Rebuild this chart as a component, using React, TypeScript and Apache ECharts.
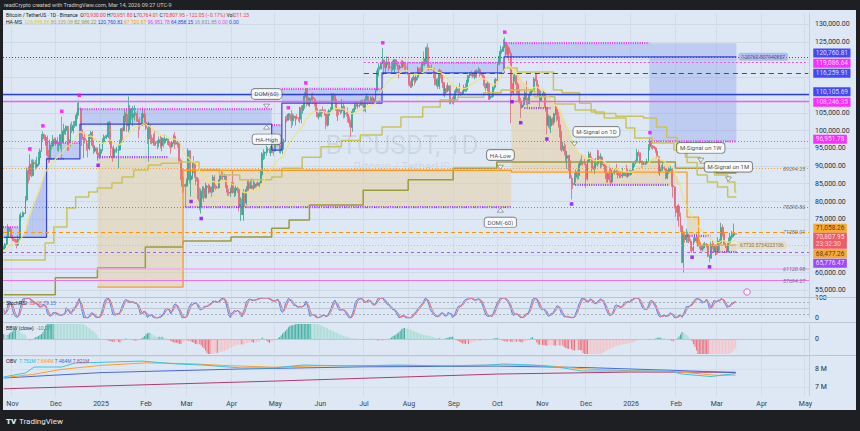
import React, { useEffect, useRef } from 'react';
import * as echarts from 'echarts';

// ---------- price data (thousands USDT) ----------
// warm-up closes used only for indicators (Sep 1 - Oct 25, 2024)
const WARMUP_SEP_2024 = [57.3, 59.1, 57.5, 58.0, 56.2, 53.9, 54.2, 54.9, 57.0, 57.6, 57.3, 58.1, 60.5, 60.0, 59.2, 58.2, 60.3, 61.8, 62.9, 63.2, 63.3, 63.6, 63.3, 64.3, 63.1, 65.2, 65.8, 65.8, 65.6, 63.3];
const WARMUP_OCT_2024 = [60.8, 60.6, 60.8, 62.1, 62.1, 62.8, 62.2, 62.1, 60.6, 60.3, 62.4, 63.2, 62.8, 66.0, 67.0, 67.6, 67.4, 68.4, 68.4, 69.0, 67.4, 67.4, 66.7, 68.2, 66.6];

// daily [high, low, close]
const OCT_2024 = [[67.4,66.5,67.0],[68.3,66.8,68.0],[70.3,67.6,69.9],[73.6,69.7,72.7],[72.9,71.4,72.3],[72.7,69.7,70.2]];
const NOV_2024 = [[70.6,68.8,69.5],[70.0,68.8,69.3],[69.5,67.5,68.7],[69.4,66.8,67.8],[70.5,67.5,69.4],[76.4,69.3,75.6],[76.9,74.4,75.9],[77.2,75.5,76.5],[77.0,75.7,76.7],[81.5,76.5,80.4],[89.6,80.2,88.7],[89.9,85.1,87.9],[93.3,86.0,90.5],[91.8,86.8,87.3],[91.9,87.1,91.0],[91.8,89.3,90.6],[91.7,89.0,89.8],[92.6,89.4,90.5],[94.0,90.0,92.3],[94.9,91.5,94.3],[99.0,94.0,98.3],[99.8,97.2,98.9],[98.9,97.1,97.7],[98.7,95.7,98.0],[98.6,92.6,93.0],[94.6,90.8,91.9],[97.4,91.0,95.9],[96.7,94.6,95.6],[98.7,95.4,97.5],[98.0,96.1,96.4]];
const DEC_2024 = [[98.0,95.7,97.2],[98.2,94.2,95.8],[96.3,94.0,96.0],[99.0,94.7,98.8],[103.9,92.1,96.6],[101.9,96.5,99.9],[100.6,98.8,99.9],[101.4,98.8,101.2],[101.2,94.2,97.4],[98.3,94.3,96.6],[101.9,95.5,101.1],[102.5,99.3,100.0],[102.6,99.2,101.4],[102.7,100.8,101.4],[105.1,101.2,104.3],[107.8,103.3,106.1],[108.4,105.3,106.1],[106.5,100.0,100.2],[102.8,95.6,97.5],[98.2,92.2,97.8],[99.5,96.4,97.3],[97.4,94.2,95.2],[96.4,92.4,94.9],[99.0,94.4,98.7],[99.9,97.6,99.4],[99.9,95.2,95.8],[97.3,93.4,94.2],[95.5,93.8,95.1],[95.2,93.3,93.7],[94.9,91.5,92.8],[96.2,91.9,93.6]];
const JAN_2025 = [[94.9,92.9,94.6],[97.8,94.2,96.9],[98.9,96.2,98.1],[98.7,97.8,98.2],[98.8,97.6,98.3],[102.5,97.9,102.3],[102.7,96.1,96.9],[97.3,92.5,95.0],[95.3,91.2,92.5],[95.8,92.2,94.7],[94.9,93.8,94.5],[95.4,93.7,94.5],[95.9,89.3,94.5],[97.4,94.3,96.5],[100.7,96.5,100.5],[100.9,97.3,99.9],[105.9,99.9,104.1],[105.0,102.3,104.5],[106.3,99.6,101.3],[109.6,99.5,102.0],[107.2,100.1,106.1],[106.3,103.1,103.7],[106.9,101.2,104.0],[107.1,102.8,104.8],[105.3,104.2,104.7],[105.5,102.5,102.6],[103.2,97.8,102.1],[103.8,100.3,101.3],[104.8,101.3,103.7],[106.5,103.3,104.7],[106.0,101.5,102.4]];
const FEB_2025 = [[102.7,100.1,100.6],[100.9,96.2,97.7],[102.5,91.2,101.4],[101.7,96.2,97.9],[98.8,96.1,96.6],[99.1,95.7,96.6],[100.1,95.6,96.5],[96.9,95.7,96.5],[97.3,94.7,96.5],[98.3,95.3,97.4],[98.5,94.9,95.7],[98.1,94.1,97.9],[97.9,95.2,96.6],[98.8,96.1,97.5],[97.9,97.1,97.6],[97.7,96.0,96.1],[97.0,95.2,95.8],[96.8,93.4,95.5],[97.0,95.0,96.6],[98.8,96.1,98.3],[99.5,94.8,96.1],[96.9,96.1,96.6],[96.6,95.2,96.3],[96.5,91.2,91.5],[92.0,86.1,88.7],[89.3,82.3,84.3],[87.0,82.8,84.7],[85.1,78.3,84.4]];
const MAR_2025 = [[86.5,84.1,86.1],[95.0,85.1,94.3],[94.4,85.1,86.1],[88.9,81.4,87.2],[91.0,86.3,90.6],[92.8,88.0,89.9],[91.2,84.6,86.8],[86.9,85.6,86.2],[86.5,80.1,80.7],[83.9,77.5,78.5],[83.6,76.6,82.9],[84.3,80.8,83.7],[84.3,79.9,81.1],[85.3,80.8,84.0],[84.7,83.9,84.3],[85.0,82.1,82.6],[84.7,82.6,84.1],[84.0,81.3,82.7],[87.4,82.5,86.8],[87.4,83.7,84.2],[84.8,83.2,84.0],[84.5,83.6,83.8],[86.1,83.7,86.1],[88.7,85.8,87.5],[88.5,86.3,87.4],[88.3,85.9,86.9],[87.8,85.8,87.2],[87.5,83.8,84.4],[84.6,81.6,82.6],[83.5,81.6,82.4],[83.9,81.3,82.5]];
const APR_2025 = [[85.5,82.4,85.2],[88.5,82.3,82.5],[83.9,81.2,83.1],[84.7,81.6,83.8],[84.2,82.4,83.5],[83.8,77.2,78.4],[81.2,74.5,79.2],[80.8,76.2,76.3],[83.5,74.6,82.6],[82.7,78.4,79.6],[84.3,78.9,83.4],[85.9,82.7,85.3],[86.0,83.0,83.7],[85.8,83.6,84.5],[86.5,83.6,83.6],[86.4,83.1,84.0],[85.5,83.7,84.9],[85.4,84.0,84.5],[85.6,84.4,85.1],[85.5,83.9,85.2],[88.9,85.1,87.5],[93.9,87.6,93.4],[94.7,91.7,93.7],[94.0,92.0,93.9],[95.8,92.9,94.7],[95.3,93.9,94.6],[95.0,93.6,93.7],[95.6,92.8,95.0],[95.5,93.6,94.3],[95.0,92.9,94.2]];
const MAY_2025 = [[97.4,94.2,96.5],[97.9,96.0,96.9],[96.9,95.7,95.9],[96.0,93.6,94.3],[95.2,93.5,94.7],[96.9,93.4,96.8],[97.7,95.8,97.0],[104.0,96.9,103.2],[104.3,102.3,102.9],[104.9,102.8,104.6],[104.9,103.1,104.1],[105.7,100.7,102.8],[104.8,101.4,104.1],[104.5,102.6,103.5],[104.1,101.4,103.7],[104.6,103.1,103.5],[103.7,102.6,103.2],[106.7,102.1,106.4],[107.1,102.0,105.6],[107.1,104.7,106.8],[110.8,106.1,109.7],[111.9,109.2,111.7],[111.9,106.7,107.3],[109.5,106.9,107.8],[109.3,106.6,109.0],[110.4,108.5,109.4],[110.7,107.5,108.9],[109.3,106.8,107.8],[108.9,105.3,105.6],[106.3,103.6,103.9],[105.0,103.1,104.6]];
const JUN_2025 = [[105.9,103.9,105.7],[105.9,103.7,105.8],[106.8,104.8,105.4],[106.0,104.1,104.7],[105.9,100.4,101.5],[105.4,101.1,104.3],[106.0,104.2,105.6],[106.6,105.0,105.7],[110.6,105.3,110.2],[110.4,108.4,110.2],[110.4,108.0,108.6],[108.9,103.9,105.7],[106.3,102.7,106.1],[106.2,104.3,105.4],[106.0,104.5,105.6],[108.9,104.9,106.8],[107.7,103.4,104.6],[105.5,103.6,104.8],[105.2,103.9,104.6],[106.5,102.3,103.3],[104.0,100.9,102.1],[103.1,98.2,100.9],[106.1,99.6,105.3],[106.3,104.7,106.0],[108.0,105.9,107.3],[108.2,106.7,106.9],[107.8,106.1,107.0],[107.6,106.5,107.3],[108.5,107.0,108.4],[108.8,106.8,107.1]];
const JUL_2025 = [[107.6,105.3,105.7],[109.7,105.1,108.8],[110.5,108.5,109.6],[109.8,107.2,108.0],[108.4,107.5,108.2],[109.7,107.8,109.2],[109.7,107.4,108.2],[109.0,107.5,108.9],[111.9,108.4,111.3],[116.9,111.3,115.9],[118.9,115.2,117.5],[118.2,116.9,117.4],[119.4,117.2,119.1],[123.2,118.9,119.8],[120.0,115.7,117.7],[119.4,115.9,118.6],[120.9,117.9,119.2],[120.8,116.8,117.9],[118.6,117.3,117.8],[118.9,116.5,117.3],[119.7,116.8,117.4],[120.2,116.4,119.9],[120.0,117.2,118.7],[119.5,117.1,118.3],[118.4,114.7,117.6],[118.5,117.1,117.9],[119.8,117.8,119.4],[119.8,117.5,118.0],[119.2,116.9,117.9],[118.9,115.8,117.8],[118.9,115.6,115.8]];
const AUG_2025 = [[116.1,112.7,113.3],[114.0,112.0,112.5],[114.8,112.0,114.2],[115.8,114.1,115.0],[115.1,112.7,114.1],[115.8,113.4,115.0],[118.0,114.3,117.5],[117.7,115.9,116.6],[117.9,116.0,116.5],[119.3,116.4,119.3],[122.3,118.2,118.7],[120.3,118.2,120.2],[123.7,118.9,123.3],[124.5,117.2,118.3],[119.2,116.8,117.4],[117.9,117.2,117.4],[118.6,117.2,117.5],[117.6,114.7,116.2],[116.8,112.7,112.9],[114.6,112.4,114.3],[114.8,111.7,112.5],[117.4,111.7,116.9],[117.0,114.6,115.4],[115.6,112.0,113.5],[113.6,109.7,110.1],[112.4,109.4,111.8],[112.8,110.6,111.2],[113.5,110.8,112.6],[112.7,107.4,108.4],[109.0,107.4,108.8],[109.5,107.5,108.2]];
const SEP_2025 = [[109.9,107.3,109.2],[111.8,108.6,111.2],[112.6,110.5,111.7],[111.6,109.4,110.7],[113.4,110.4,110.7],[110.9,109.7,110.2],[111.3,110.0,111.1],[112.9,110.6,112.1],[113.3,110.8,111.5],[114.3,110.9,113.9],[115.5,113.5,115.5],[116.3,114.8,116.1],[116.8,115.2,115.9],[116.1,114.8,115.3],[116.8,114.4,115.4],[117.0,114.8,116.8],[117.3,114.8,116.5],[117.9,116.6,117.1],[117.5,115.1,115.7],[116.3,115.4,115.7],[115.8,114.9,115.3],[115.4,111.9,112.7],[113.3,111.1,112.0],[114.0,111.0,113.3],[113.5,108.6,109.0],[110.3,108.6,109.7],[109.8,109.2,109.6],[112.4,109.2,112.2],[114.5,111.5,114.4],[114.8,112.6,114.0]];
const OCT_2025 = [[118.7,113.9,118.6],[121.0,118.4,120.6],[123.9,119.3,122.3],[122.9,121.6,122.4],[125.7,122.2,123.5],[126.2,123.3,124.8],[125.0,120.6,121.5],[124.2,121.1,123.3],[123.8,119.6,121.7],[122.6,102.0,113.2],[113.4,109.6,110.6],[115.8,110.1,115.2],[115.9,113.8,115.3],[115.5,110.0,113.0],[113.6,110.0,110.7],[111.7,107.6,108.2],[109.2,103.5,106.4],[107.5,106.4,107.2],[109.4,106.7,108.6],[111.7,107.5,110.6],[114.0,107.2,108.4],[109.2,106.6,107.6],[111.0,107.4,110.1],[112.0,109.7,111.0],[111.9,110.8,111.6],[115.0,111.3,114.5],[116.4,113.8,114.1],[116.1,112.2,112.9],[113.6,109.6,110.0],[111.6,106.3,108.3],[111.2,108.0,109.6]];
const NOV_2025 = [[110.6,109.4,110.1],[111.2,109.8,110.6],[110.8,105.3,106.5],[106.6,98.9,101.5],[104.5,100.8,103.9],[104.2,100.3,101.3],[104.0,99.3,103.3],[103.7,101.5,102.3],[105.0,101.5,104.7],[107.0,104.3,106.0],[106.7,102.5,103.0],[105.3,100.8,101.6],[104.0,98.0,99.7],[99.8,94.0,94.5],[96.8,94.6,95.5],[96.6,93.0,94.2],[96.0,91.2,92.2],[93.8,89.2,92.9],[93.0,88.6,91.5],[93.2,86.3,86.6],[87.4,80.6,85.1],[85.6,83.5,84.7],[88.0,84.6,86.8],[89.0,85.3,88.3],[89.0,86.1,87.3],[90.7,86.3,90.5],[91.9,90.1,91.3],[93.1,90.2,90.9],[91.2,90.2,90.8],[92.0,90.3,90.4]];
const DEC_2025 = [[90.4,83.8,86.3],[91.8,85.9,91.3],[94.1,91.0,93.4],[94.0,91.8,92.1],[92.7,88.0,89.4],[89.9,88.9,89.2],[91.9,87.7,90.4],[92.3,89.9,90.6],[94.6,89.8,92.7],[94.4,91.7,92.0],[93.6,89.3,92.5],[92.8,89.6,90.3],[90.6,89.8,90.3],[90.6,88.0,88.2],[90.0,85.3,86.4],[88.1,85.3,87.8],[90.4,85.4,86.2],[89.5,84.5,85.5],[88.9,85.1,88.1],[88.6,87.9,88.3],[89.1,87.6,88.6],[90.6,87.5,88.5],[88.1,86.5,87.4],[88.0,86.6,87.6],[88.5,86.6,87.2],[89.5,86.6,87.3],[88.0,87.3,87.8],[88.0,87.1,87.8],[90.4,86.8,87.1],[89.2,86.7,88.4],[89.0,87.3,87.6]];
const JAN_2026 = [[88.9,87.3,88.7],[90.9,88.5,89.9],[91.0,89.2,90.6],[91.8,90.5,91.5],[94.8,91.3,93.8],[94.4,92.7,93.7],[93.8,90.6,91.3],[91.5,89.6,91.0],[91.5,89.6,90.5],[90.9,90.1,90.6],[91.0,90.2,90.8],[92.0,90.2,91.2],[96.2,91.1,95.4],[97.9,94.4,96.9],[97.2,94.8,95.6],[95.9,94.6,95.5],[95.6,94.7,95.1],[95.4,93.7,94.2],[93.6,92.2,92.6],[92.8,87.8,88.3],[90.4,87.2,89.5],[90.3,88.6,89.4],[91.2,88.6,89.5],[89.9,88.8,89.2],[89.3,86.2,86.6],[88.9,86.3,88.3],[89.6,87.7,89.2],[90.2,88.6,89.2],[89.2,84.1,84.5],[85.0,81.1,84.1],[84.2,78.0,78.6]];
const FEB_2026 = [[79.3,75.7,76.9],[79.0,74.6,78.7],[79.4,72.9,75.8],[76.9,71.4,73.0],[73.4,62.6,62.9],[71.6,60.0,70.5],[71.5,68.4,69.3],[72.3,68.4,70.6],[71.5,68.4,70.1],[70.9,68.3,68.8],[69.5,65.9,67.0],[68.2,65.6,66.2],[69.9,65.8,68.9],[70.9,68.4,69.8],[70.9,68.2,68.8],[70.2,67.3,68.8],[69.3,66.7,67.5],[68.5,66.1,66.4],[67.7,65.9,66.9],[68.3,66.5,67.9],[68.6,67.5,68.0],[68.3,67.0,67.6],[68.0,64.3,64.6],[65.0,62.9,64.0],[68.7,63.9,67.9],[69.0,66.5,67.5],[68.4,65.5,65.9],[67.8,64.8,67.0]];
const MAR_2026 = [[67.8,64.9,65.8],[69.9,65.3,68.8],[69.5,66.1,68.3],[74.0,68.0,72.7],[73.5,70.1,70.9],[71.2,67.5,68.0],[68.4,66.9,67.3],[67.7,65.6,66.0],[69.8,65.7,68.4],[71.2,68.1,69.9],[71.7,69.3,70.2],[71.0,69.8,70.5],[73.8,70.0,70.93],[70.95,70.76,70.80795]];

const MONTHS: [string, number[][]][] = [
  ['2024-10-26', OCT_2024], ['2024-11-01', NOV_2024], ['2024-12-01', DEC_2024], ['2025-01-01', JAN_2025],
  ['2025-02-01', FEB_2025], ['2025-03-01', MAR_2025], ['2025-04-01', APR_2025], ['2025-05-01', MAY_2025],
  ['2025-06-01', JUN_2025], ['2025-07-01', JUL_2025], ['2025-08-01', AUG_2025], ['2025-09-01', SEP_2025],
  ['2025-10-01', OCT_2025], ['2025-11-01', NOV_2025], ['2025-12-01', DEC_2025], ['2026-01-01', JAN_2026],
  ['2026-02-01', FEB_2026], ['2026-03-01', MAR_2026],
];

// ---------- overlay levels (thousands) ----------
const HA_HIGH_STEPS: [string, number][] = [['2024-10-26',69.9],['2024-11-25',92.0],['2024-12-18',101.8],['2025-04-29',94.5],['2025-05-06',107.7],['2025-07-14',116.26],['2025-10-06',120.76]];
const HA_LOW_STEPS: [string, number][] = [['2024-12-30',55.9],['2025-02-27',88.8],['2025-10-11',88.3],['2026-02-09',75.6],['2026-02-17',67.72]];
const MS_1M_STEPS: [string, number][] = [['2024-10-26',63.5],['2024-11-24',68.3],['2024-11-30',72.8],['2024-12-09',78.2],['2024-12-15',81.3],['2024-12-24',82.7],['2024-12-30',83.8],['2025-01-09',85.2],['2025-01-16',86.9],['2025-01-24',88.9],['2025-02-03',90.3],['2025-02-12',90.8],['2025-02-24',91.1],['2025-03-10',89.0],['2025-03-24',87.5],['2025-04-07',86.1],['2025-04-29',86.9],['2025-05-06',89.4],['2025-05-20',92.5],['2025-06-02',95.4],['2025-06-16',97.2],['2025-06-29',98.7],['2025-07-14',101.0],['2025-07-27',103.8],['2025-08-11',106.6],['2025-08-23',108.6],['2025-09-04',109.4],['2025-09-22',110.6],['2025-10-04',111.4],['2025-10-27',109.5],['2025-11-10',107.5],['2025-11-24',105.8],['2025-12-08',104.8],['2025-12-22',104.0],['2026-01-10',103.5],['2026-01-19',101.0],['2026-01-26',98.0],['2026-02-02',95.0],['2026-02-09',91.0],['2026-02-16',87.5],['2026-02-23',85.5],['2026-03-02',84.1],['2026-03-09',81.3]];
const MS_1W_STEPS: [string, number][] = [['2025-10-06',117.6],['2025-10-15',116.5],['2025-11-09',111.4],['2025-11-15',110.6],['2025-11-27',107.7],['2025-12-05',105.2],['2025-12-14',103.5],['2025-12-29',100.7],['2026-01-04',97.9],['2026-01-16',96.5],['2026-01-31',94.5],['2026-02-08',92.5],['2026-02-18',90.8],['2026-02-28',87.5],['2026-03-09',85.5],['2026-03-14',82.7]];
const OLIVE_STEPS: [string, number][] = [['2024-10-26',53.7],['2024-12-01',58.5],['2024-12-30',61.3],['2025-02-01',67.2],['2025-02-27',68.9],['2025-04-01',70.0],['2025-04-29',72.5],['2025-05-11',74.8],['2025-05-25',79.0],['2025-07-01',83.2],['2025-08-01',86.1],['2025-09-01',89.4],['2025-10-01',91.1],['2026-02-01',89.4],['2026-03-01',88.0]];
const DOM_UP_SEGS: [string, string, number][] = [['2024-10-26','2024-11-07',72.8],['2024-11-25','2024-12-18',96.5],['2024-12-18','2025-04-29',106.0],['2025-04-29','2025-05-06',101.5],['2025-05-06','2025-07-14',111.7],['2025-07-14','2025-10-06',119.09],['2025-10-06','2026-01-14',124.6],['2026-01-14','2026-03-15',96.95]];
const DOM_DN_SEGS: [string, string, number][] = [['2024-11-25','2024-12-07',92.0],['2024-12-30','2025-02-17',92.5],['2025-02-27','2025-10-11',78.4],['2025-10-20','2025-11-07',106.3],['2025-11-24','2026-01-28',84.7],['2026-02-09','2026-02-25',70.3],['2026-02-25','2026-03-15',65.78]];
const BLUE_ZONES: [string, string, number, number][] = [['2024-10-26','2024-11-07',69.9,72.8],['2024-11-25','2024-12-18',92.0,96.5],['2024-12-18','2025-04-29',101.8,106.0],['2025-04-29','2025-05-06',94.5,101.5],['2025-05-06','2025-07-14',107.7,111.7],['2025-07-14','2025-10-06',116.26,119.09],['2025-10-06','2026-01-14',120.76,124.6],['2026-01-14','2026-03-15',96.95,124.6]];
const BEIGE_ZONES: [string, string, number, number][] = [['2024-12-30','2025-02-27',55.9,92.5],['2025-02-27','2025-10-11',78.4,88.8],['2026-02-09','2026-02-17',70.3,75.6],['2026-02-17','2026-03-15',65.78,67.72]];
const SIGNAL_BANDS: [string, string, number, string][] = [['2024-10-26','2024-11-25',69.9,'blue'],['2025-10-11','2025-11-24',88.3,'beige'],['2025-11-24','2026-02-09',84.7,'beige']];
const PIVOT_HIGHS: [string, number][] = [['2024-11-13',94.8],['2024-11-22',101.3],['2024-12-05',105.4],['2024-12-17',109.9],['2025-05-10',106.4],['2025-05-22',113.4],['2025-07-14',124.7],['2025-10-06',127.7],['2026-01-14',99.4]];
const PIVOT_LOWS: [string, number][] = [['2024-12-30',90.2],['2025-03-04',80.0],['2025-03-11',75.2],['2025-10-11',108.1],['2025-10-17',102.2],['2025-11-04',97.6],['2025-11-21',79.3],['2026-02-12',64.3],['2026-02-24',61.6]];
// [value, color, dash, width, from]
const LEVEL_LINES: [number, string, any, number, string | null][] = [
  [120760.81, '#3040e6', [1, 2], 1, null], [119086.64, '#ee55ee', [2, 2], 1, '2025-07-01'],
  [116259.91, '#3040e6', [5, 4], 1.2, '2025-07-01'], [110105.69, '#2f3fdc', 'solid', 1.3, null],
  [108246.35, '#f060f0', 'solid', 1.3, null], [96951.78, '#ee44ee', [1, 2], 1.2, null],
  [89294.25, '#f5a040', [1, 2], 1, null], [78395.86, '#a070e0', [1, 2], 1, null],
  [71280.01, '#ff9800', [4, 3], 1.2, null], [67720.57, '#e8c060', [1, 2], 1, null],
  [65776.47, '#a060ff', [3, 3], 1, null], [61120.98, '#f3a8f0', 'solid', 1.6, null],
  [57694.27, '#f070ec', 'solid', 1.2, null],
];
const LEVEL_TEXTS = [89294.25, 78395.86, 71280.01, 61120.98, 57694.27];
// axis labels hidden behind the price tags
const HIDDEN_TICKS = [120000, 115000, 110000, 70000, 65000];
// [value, bg, text color, pixel offset, extra line]
const PRICE_TAGS: [number, string, string, number, string][] = [
  [120760.81, '#1e22f0', '#fff', -3.8, ''], [119086.64, '#ff00ff', '#fff', 0.4, ''], [116259.91, '#1e22f0', '#fff', 0.4, ''],
  [110105.69, '#1e22f0', '#fff', -2.8, ''], [108246.35, '#ff00ff', '#fff', 0.9, ''], [96951.78, '#ff00ff', '#fff', -2, ''],
  [71058.26, '#ff9800', '#1a1a1a', -5, ''], [70807.95, '#f23645', '#fff', 6.6, '23:32:30'],
  [68477.26, '#ff9800', '#1a1a1a', 11.4, ''], [65776.47, '#9020ff', '#fff', 11.2, ''],
];
const CALLOUTS: [string, number, string, string][] = [
  ['2025-04-25', 106.0, 'DOM(60)', 'top'], ['2025-04-25', 101.8, 'HA-High', 'bottom'],
  ['2025-10-03', 88.8, 'HA-Low', 'top'], ['2025-10-03', 78.4, 'DOM(-60)', 'bottom'],
  ['2026-02-18', 90.8, 'M-Signal on 1W', 'top'], ['2026-03-09', 85.5, 'M-Signal on 1M', 'top'],
];
// OBV panel (millions)
const OBV_LINE: [string, number][] = [['2024-10-26',7.56],['2024-11-10',7.78],['2024-11-16',8.11],['2024-12-05',8.11],['2024-12-14',8.33],['2025-01-09',8.39],['2025-01-29',8.44],['2025-02-22',8.28],['2025-03-12',8.22],['2025-04-07',8.06],['2025-04-30',8.06],['2025-05-20',8.22],['2025-06-20',8.17],['2025-07-25',8.22],['2025-08-25',8.17],['2025-09-25',8.22],['2025-10-05',8.28],['2025-10-25',8.22],['2025-11-15',8.06],['2025-11-28',7.89],['2025-12-28',7.89],['2026-01-28',7.89],['2026-02-05',7.72],['2026-02-25',7.58],['2026-03-14',7.75]];
const OBV_FAST: [string, number][] = [['2024-10-26',7.52],['2024-11-15',7.7],['2024-12-05',7.98],['2025-01-01',8.2],['2025-02-01',8.34],['2025-03-01',8.3],['2025-04-01',8.18],['2025-05-01',8.1],['2025-06-01',8.18],['2025-07-01',8.19],['2025-08-01',8.2],['2025-09-01',8.19],['2025-10-01',8.22],['2025-11-01',8.2],['2025-12-01',8.0],['2026-01-01',7.9],['2026-02-01',7.85],['2026-03-01',7.65],['2026-03-14',7.66]];
const OBV_MID: [string, number][] = [['2024-10-26',7.5],['2025-01-01',7.8],['2025-04-07',8.0],['2025-07-01',8.12],['2025-10-01',8.16],['2025-12-01',8.08],['2026-02-01',7.92],['2026-03-14',7.8]];
const OBV_SLOW: [string, number][] = [['2024-10-26',6.9],['2025-05-01',7.33],['2025-10-01',7.72],['2026-01-01',7.83],['2026-03-14',7.82]];

// ---------- helpers ----------
const DAY = 86400000;
const START = Date.UTC(2024, 9, 26);
const N_DAYS = 555;
const iso = (t: number) => new Date(t).toISOString().slice(0, 10);
const DATES = Array.from({ length: N_DAYS }, (_, i) => iso(START + i * DAY));
const idx = (d: string) => Math.round((Date.UTC(+d.slice(0, 4), +d.slice(5, 7) - 1, +d.slice(8, 10)) - START) / DAY);
const LAST = idx('2026-03-14');
const MON = ['Jan','Feb','Mar','Apr','May','Jun','Jul','Aug','Sep','Oct','Nov','Dec'];
const fmt2 = (v: number) => v.toLocaleString('en-US', { minimumFractionDigits: 2, maximumFractionDigits: 2 });
const FONT = 'Roboto, "Liberation Sans", sans-serif';

function buildData() {
  const closes: number[] = new Array(LAST + 1).fill(NaN);
  const candles: any[] = new Array(N_DAYS).fill('-');
  MONTHS.forEach(([d0, arr]) => {
    const s = idx(d0);
    arr.forEach((hlc, j) => { closes[s + j] = hlc[2]; });
  });
  let prev = WARMUP_OCT_2024[WARMUP_OCT_2024.length - 1];
  MONTHS.forEach(([d0, arr]) => {
    const s = idx(d0);
    arr.forEach(([h, l, c], j) => {
      const o = prev;
      candles[s + j] = [o * 1000, c * 1000, Math.min(l, o, c) * 1000, Math.max(h, o, c) * 1000];
      prev = c;
    });
  });
  const all = [...WARMUP_SEP_2024, ...WARMUP_OCT_2024, ...closes];
  const W = WARMUP_SEP_2024.length + WARMUP_OCT_2024.length;
  // EMA 20 (M-Signal on 1D)
  const k = 2 / 21; const emaAll: number[] = []; let e = all[0];
  all.forEach((v, i) => { e = i === 0 ? v : v * k + e * (1 - k); emaAll.push(e); });
  // RSI 14 -> StochRSI 3,3,14,14
  const n = 14; const rsi: (number | null)[] = new Array(all.length).fill(null);
  let ag = 0, al = 0;
  for (let i = 1; i < all.length; i++) {
    const ch = all[i] - all[i - 1]; const g = Math.max(ch, 0), l = Math.max(-ch, 0);
    if (i <= n) { ag += g / n; al += l / n; if (i === n) rsi[i] = al === 0 ? 100 : 100 - 100 / (1 + ag / al); }
    else { ag = (ag * (n - 1) + g) / n; al = (al * (n - 1) + l) / n; rsi[i] = al === 0 ? 100 : 100 - 100 / (1 + ag / al); }
  }
  const st: (number | null)[] = all.map((_, i) => {
    if (i < 2 * n) return null;
    const win = rsi.slice(i - n + 1, i + 1) as number[];
    const mn = Math.min(...win), mx = Math.max(...win);
    return mx === mn ? 0 : ((rsi[i] as number) - mn) / (mx - mn) * 100;
  });
  const sma3 = (a: (number | null)[]) => a.map((_, i) => (i >= 2 && a[i] != null && a[i - 1] != null && a[i - 2] != null) ? ((a[i] as number) + (a[i - 1] as number) + (a[i - 2] as number)) / 3 : null);
  const K = sma3(st); const D = sma3(K);
  // BB trend (20 / 50, 2)
  const bb = (i: number, len: number) => {
    const w = all.slice(i - len + 1, i + 1); const m = w.reduce((a, b) => a + b, 0) / len;
    const sd = Math.sqrt(w.reduce((a, b) => a + (b - m) * (b - m), 0) / len); return [m, m - 2 * sd, m + 2 * sd];
  };
  const bbt: (number | null)[] = all.map((_, i) => {
    if (i < 49) return null;
    const [m20, lo20, up20] = bb(i, 20); const [, lo50, up50] = bb(i, 50);
    return (Math.abs(lo20 - lo50) - Math.abs(up20 - up50)) / m20 * 100;
  });
  const ema = emaAll.slice(W).map(v => v * 1000);
  return { candles, ema, K: K.slice(W), D: D.slice(W), bbt: bbt.slice(W) };
}

function stepArray(points: [string, number][], endDate: string) {
  const arr: any[] = new Array(N_DAYS).fill('-');
  points.forEach((p, kk) => {
    const s = idx(p[0]); const e = kk + 1 < points.length ? idx(points[kk + 1][0]) : idx(endDate) + 1;
    for (let i = s; i < e; i++) arr[i] = p[1] * 1000;
  });
  return arr;
}

function zoneSeries(zones: [string, string, number, number][], fill: string) {
  return {
    type: 'custom', xAxisIndex: 0, yAxisIndex: 0, silent: true, z: 1,
    data: zones.map(z => [idx(z[0]), idx(z[1]), z[2] * 1000, z[3] * 1000]),
    renderItem: (params: any, api: any) => {
      const w = api.size([1, 0])[0];
      const p1 = api.coord([api.value(0), api.value(3)]);
      const p2 = api.coord([api.value(1), api.value(2)]);
      return { type: 'rect', shape: { x: p1[0] - w / 2, y: p1[1], width: p2[0] - p1[0], height: p2[1] - p1[1] }, style: { fill } };
    },
  };
}

function segSeries(segs: [string, string, number][], stroke: string) {
  return {
    type: 'custom', xAxisIndex: 0, yAxisIndex: 0, silent: true, z: 4,
    data: segs.map(s => [idx(s[0]), idx(s[1]), s[2] * 1000]),
    renderItem: (params: any, api: any) => {
      const w = api.size([1, 0])[0];
      const p1 = api.coord([api.value(0), api.value(2)]);
      const p2 = api.coord([api.value(1), api.value(2)]);
      return { type: 'line', shape: { x1: p1[0] - w / 2, y1: p1[1], x2: p2[0] - w / 2, y2: p2[1] }, style: { stroke, lineWidth: 2.2, lineDash: [1, 1.3] } };
    },
  };
}

function buildOption() {
  const { candles, ema, K, D, bbt } = buildData();
  const L = 3, R = 51;
  const grids = [
    { left: L, right: R, top: 13.35, height: 284 },
    { left: L, right: R, top: 298, height: 20 },
    { left: L, right: R, top: 324, height: 30 },
    { left: L, right: R, top: 356, height: 40 },
  ];
  const monthStart = (i: number, v: string) => v.endsWith('-01');
  const xAxes = grids.map((g, gi) => ({
    type: 'category', gridIndex: gi, data: DATES, boundaryGap: true,
    axisLine: { show: false }, axisTick: { show: false },
    axisLabel: {
      show: gi === 3, interval: monthStart, margin: 4, fontSize: 7, color: '#3a3f4a', fontFamily: FONT,
      formatter: (v: string) => { const m = +v.slice(5, 7); return m === 1 ? v.slice(0, 4) : MON[m - 1]; },
    },
    splitLine: { show: true, interval: monthStart, lineStyle: { color: '#d2dde9', width: 1 } },
  }));
  const T = 'rgba(0,0,0,0)';
  const yAxes: any[] = [
    { type: 'value', gridIndex: 0, position: 'right', min: 53000, max: 133000, interval: 1000,
      axisLine: { show: true, lineStyle: { color: '#c4cfdc' } }, axisTick: { show: false },
      axisLabel: { fontSize: 7, color: '#2a2e39', margin: 6, fontFamily: FONT, showMinLabel: false, showMaxLabel: false,
        formatter: (v: number) => (v % 5000 === 0 && HIDDEN_TICKS.indexOf(v) < 0 ? fmt2(v) : '') },
      splitLine: { show: true, lineStyle: { color: [T, T, '#cfdae7', T, T], width: 1 } } },
    { type: 'value', gridIndex: 1, position: 'right', min: 0, max: 100, interval: 100,
      axisLine: { show: true, lineStyle: { color: '#c4cfdc' } }, axisTick: { show: false }, splitLine: { show: false },
      axisLabel: { fontSize: 7, color: '#2a2e39', margin: 6, fontFamily: FONT } },
    { type: 'value', gridIndex: 2, position: 'right', min: -16, max: 16, interval: 16,
      axisLine: { show: true, lineStyle: { color: '#c4cfdc' } }, axisTick: { show: false }, splitLine: { show: false },
      axisLabel: { fontSize: 7, color: '#2a2e39', margin: 6, fontFamily: FONT, formatter: (v: number) => (v === 0 ? '0' : '') } },
    { type: 'value', gridIndex: 3, position: 'right', min: 6.5, max: 8.7222, interval: 0.5,
      axisLine: { show: true, lineStyle: { color: '#c4cfdc' } }, axisTick: { show: false },
      splitLine: { show: true, lineStyle: { color: [T, '#d6e0ec'] } },
      axisLabel: { fontSize: 7, color: '#2a2e39', margin: 6, fontFamily: FONT, showMaxLabel: false,
        formatter: (v: number) => (v === 7 ? '7 M' : v === 8 ? '8 M' : '') } },
  ];

  const lastCat = DATES[N_DAYS - 1];
  const levelMark = LEVEL_LINES.map(([v, color, type, width, from]) => {
    const ls = { color, type, width };
    if (from) return [{ coord: [from, v], lineStyle: ls }, { coord: [lastCat, v] }];
    return { yAxis: v, lineStyle: ls };
  });

  const signalBandData: any[] = [];
  SIGNAL_BANDS.forEach(([s, e, lo, kind]) => {
    for (let i = idx(s); i < idx(e); i++) if (ema[i] > lo * 1000) signalBandData.push([i, lo * 1000, ema[i], kind === 'blue' ? 1 : 0]);
  });

  const bandColor = ['rgba(235,205,150,0.45)', 'rgba(95,115,240,0.24)'];
  const stepLine = (data: any[], color: string, width: number, z = 4) => ({
    type: 'line', xAxisIndex: 0, yAxisIndex: 0, data, step: 'middle', symbol: 'none', silent: true, z,
    lineStyle: { color, width }, connectNulls: false,
  });

  const ms1dIdx = idx('2025-11-23');
  const callouts = CALLOUTS.map(([d, v, text, pos]) => ({ d, v: v * 1000, text, pos, off: [0, 0] }));
  callouts.push({ d: '2025-11-23', v: ema[ms1dIdx], text: 'M-Signal on 1D', pos: 'top', off: [22, 0] });

  const bbtData = bbt.map((v, i) => {
    if (v == null || i > LAST) return '-';
    const p = i > 0 ? bbt[i - 1] : v; const rising = p == null || v >= p;
    const color = v >= 0 ? (rising ? '#3eae9e' : '#a8dcd4') : (rising ? '#f7c1c6' : '#ef6f7a');
    return { value: v, itemStyle: { color } };
  });

  const stochFill = K.map((k, i) => (k != null && D[i] != null && i <= LAST ? [i, k, D[i]] : null)).filter(Boolean);

  const series: any[] = [
    zoneSeries(BLUE_ZONES, 'rgba(95,115,240,0.24)'),
    zoneSeries(BEIGE_ZONES, 'rgba(235,205,150,0.45)'),
    {
      type: 'custom', xAxisIndex: 0, yAxisIndex: 0, silent: true, z: 1, data: signalBandData,
      renderItem: (params: any, api: any) => {
        const w = api.size([1, 0])[0];
        const a = api.coord([api.value(0), api.value(2)]); const b = api.coord([api.value(0), api.value(1)]);
        return { type: 'rect', shape: { x: a[0] - w / 2, y: a[1], width: w + 0.3, height: b[1] - a[1] }, style: { fill: bandColor[api.value(3)] } };
      },
    },
    {
      type: 'candlestick', xAxisIndex: 0, yAxisIndex: 0, data: candles, barWidth: 1.4, z: 3, silent: true,
      itemStyle: { color: '#34a58f', color0: '#ea6477', borderColor: '#34a58f', borderColor0: '#ea6477', borderWidth: 0.8 },
      markLine: { silent: true, symbol: 'none', animation: false, label: { show: false }, data: levelMark },
    },
    stepLine(stepArray(OLIVE_STEPS, '2026-03-14'), '#9d9a3c', 1.5),
    stepLine(stepArray(MS_1M_STEPS, '2026-03-14'), '#c9c35c', 1.5),
    stepLine(stepArray(MS_1W_STEPS, '2026-03-14'), '#c9c35c', 1.5),
    stepLine(stepArray(HA_HIGH_STEPS, '2026-03-14'), '#3445e0', 1.2),
    stepLine(stepArray(HA_LOW_STEPS, '2026-03-14'), '#ff9a1f', 1.3),
    { type: 'line', xAxisIndex: 0, yAxisIndex: 0, data: ema.map((v, i) => (i <= LAST ? v : '-')), symbol: 'none', silent: true, z: 4,
      lineStyle: { color: '#eee47a', width: 1.2 } },
    segSeries(DOM_UP_SEGS, '#e23ee8'),
    segSeries(DOM_DN_SEGS, '#9b3df0'),
    { type: 'scatter', xAxisIndex: 0, yAxisIndex: 0, symbol: 'rect', symbolSize: 3.5, z: 5, silent: true,
      itemStyle: { color: '#ff00ff' }, data: PIVOT_HIGHS.map(([d, v]) => [d, v * 1000]) },
    { type: 'scatter', xAxisIndex: 0, yAxisIndex: 0, symbol: 'rect', symbolSize: 3.5, z: 5, silent: true,
      itemStyle: { color: '#8f00ff' }, data: PIVOT_LOWS.map(([d, v]) => [d, v * 1000]) },
    { type: 'scatter', xAxisIndex: 0, yAxisIndex: 0, z: 7, silent: true,
      data: callouts.map(c => ({
        value: [c.d, c.v], symbol: 'triangle', symbolSize: [6, 4], symbolRotate: c.pos === 'top' ? 180 : 0,
        symbolOffset: [0, c.pos === 'top' ? -3 : 3],
        itemStyle: { color: '#ffffff', borderColor: '#4a4a4a', borderWidth: 0.6 },
        label: { show: true, position: c.pos, distance: 5, offset: c.off, formatter: c.text, backgroundColor: '#ffffff',
          borderColor: '#4a4a4a', borderWidth: 0.7, borderRadius: 3, padding: [2, 3], fontSize: 6, color: '#222', fontFamily: FONT },
      })) },
    { type: 'scatter', xAxisIndex: 0, yAxisIndex: 0, z: 6, silent: true, symbolSize: 0,
      data: LEVEL_TEXTS.map(v => ({ value: [lastCat, v], label: { show: true, position: 'left', distance: 3, formatter: String(v),
        fontSize: 5.5, fontStyle: 'italic', color: '#4a4f5a', fontFamily: FONT } })) },
    { type: 'scatter', xAxisIndex: 0, yAxisIndex: 0, z: 6, silent: true, symbolSize: 0,
      data: [
        { value: ['2026-03-16', 120760.81], label: { show: true, position: 'right', distance: 0, formatter: '120760.807940857', fontSize: 5,
          color: '#3a3f70', backgroundColor: 'rgba(150,160,235,0.75)', padding: [1.5, 3], borderRadius: 2, fontFamily: FONT } },
        { value: ['2026-03-15', 67720.57], label: { show: true, position: 'right', distance: 0, formatter: '67720.5734223106', fontSize: 5,
          color: '#5a5040', backgroundColor: 'rgba(232,218,185,0.95)', padding: [1.5, 3], borderRadius: 1, fontFamily: FONT } },
      ] },
    { type: 'scatter', xAxisIndex: 0, yAxisIndex: 0, z: 8, silent: true, symbolSize: 0,
      data: PRICE_TAGS.map(([v, bg, fg, off, extra]) => ({
        value: [lastCat, v],
        label: { show: true, position: 'right', distance: 5, offset: [0, off], formatter: extra ? fmt2(v) + '\n' + extra : fmt2(v),
          backgroundColor: bg, color: fg, fontSize: 6.5, lineHeight: 7, padding: [1, 2.5], fontFamily: FONT },
      })) },
    // StochRSI panel
    { type: 'custom', xAxisIndex: 1, yAxisIndex: 1, silent: true, z: 1, data: stochFill,
      renderItem: (params: any, api: any) => {
        const w = api.size([1, 0])[0]; const k = api.value(1), d = api.value(2);
        const a = api.coord([api.value(0), Math.max(k, d)]); const b = api.coord([api.value(0), Math.min(k, d)]);
        return { type: 'rect', shape: { x: a[0] - w / 2, y: a[1], width: w + 0.3, height: Math.max(b[1] - a[1], 0) },
          style: { fill: k >= d ? 'rgba(240,110,120,0.28)' : 'rgba(100,130,240,0.28)' } };
      } },
    { type: 'line', xAxisIndex: 1, yAxisIndex: 1, data: K.map((v, i) => (v == null || i > LAST ? '-' : v)), symbol: 'none', silent: true,
      lineStyle: { color: '#5b84ee', width: 1 }, z: 3,
      markLine: { silent: true, symbol: 'none', label: { show: false },
        data: [{ yAxis: 80, lineStyle: { color: '#9aa4b4', type: [2, 2], width: 0.8 } }, { yAxis: 50, lineStyle: { color: '#b4bdca', type: 'solid', width: 0.8 } },
          { yAxis: 20, lineStyle: { color: '#9aa4b4', type: [2, 2], width: 0.8 } }] } },
    { type: 'line', xAxisIndex: 1, yAxisIndex: 1, data: D.map((v, i) => (v == null || i > LAST ? '-' : v)), symbol: 'none', silent: true,
      lineStyle: { color: '#ec6f78', width: 1 }, z: 3 },
    // BB trend histogram
    { type: 'bar', xAxisIndex: 2, yAxisIndex: 2, data: bbtData, barWidth: 1, silent: true,
      markLine: { silent: true, symbol: 'none', label: { show: false }, data: [{ yAxis: 0, lineStyle: { color: '#b4bdca', type: 'solid', width: 0.8 } }] } },
    // OBV
    { type: 'line', xAxisIndex: 3, yAxisIndex: 3, data: OBV_SLOW, symbol: 'none', silent: true, lineStyle: { color: '#b5386f', width: 1 } },
    { type: 'line', xAxisIndex: 3, yAxisIndex: 3, data: OBV_MID, symbol: 'none', silent: true, lineStyle: { color: '#4a66e0', width: 1 } },
    { type: 'line', xAxisIndex: 3, yAxisIndex: 3, data: OBV_FAST, symbol: 'none', silent: true, lineStyle: { color: '#ff9f2e', width: 1 } },
    { type: 'line', xAxisIndex: 3, yAxisIndex: 3, data: OBV_LINE, symbol: 'none', silent: true, lineStyle: { color: '#3cc4dc', width: 1 } },
  ];

  const kLast = K[LAST] as number, dLast = D[LAST] as number, bLast = bbt[LAST] as number;
  const dark = '#1e1f22';
  const graphic: any[] = [
    { type: 'text', x: 402, y: 145, z: 0, silent: true, style: { text: 'BTCUSDT, 1D', fill: 'rgba(110,120,140,0.16)', fontSize: 26, fontFamily: FONT, align: 'center', verticalAlign: 'middle' } },
    { type: 'text', x: 402, y: 167, z: 0, silent: true, style: { text: 'Bitcoin / TetherUS', fill: 'rgba(110,120,140,0.16)', fontSize: 12, fontFamily: FONT, align: 'center', verticalAlign: 'middle' } },
    { type: 'rect', shape: { x: 0, y: 0, width: 860, height: 10 }, style: { fill: dark }, z: 100 },
    { type: 'rect', shape: { x: 0, y: 410, width: 860, height: 21 }, style: { fill: dark }, z: 100 },
    { type: 'rect', shape: { x: 0, y: 0, width: 3, height: 431 }, style: { fill: dark }, z: 100 },
    { type: 'rect', shape: { x: 856, y: 0, width: 4, height: 431 }, style: { fill: dark }, z: 100 },
    { type: 'line', shape: { x1: 3, y1: 297.5, x2: 856, y2: 297.5 }, style: { stroke: '#b9c5d4', lineWidth: 1 }, z: 50 },
    { type: 'line', shape: { x1: 3, y1: 322.5, x2: 856, y2: 322.5 }, style: { stroke: '#b9c5d4', lineWidth: 1 }, z: 50 },
    { type: 'line', shape: { x1: 3, y1: 355.5, x2: 856, y2: 355.5 }, style: { stroke: '#b9c5d4', lineWidth: 1 }, z: 50 },
    { type: 'text', x: 4, y: 5, z: 101, style: { text: 'readCrypto created with TradingView.com, Mar 14, 2026 09:27 UTC-9', fill: '#cfcfcf', fontSize: 5.5, fontFamily: FONT, verticalAlign: 'middle' } },
    { type: 'text', x: 6, y: 15, z: 60, style: { fontSize: 5, fontFamily: FONT, verticalAlign: 'middle',
      text: '{d|Bitcoin / TetherUS · 1D · Binance}  {d|O}{r|70,930.00} {d|H}{r|70,951.80} {d|L}{r|70,764.01} {d|C}{r|70,807.95} {r|−122.05 (−0.17%)} {d|Vol}{r|211.23}',
      rich: { d: { fill: '#131722', fontSize: 5, fontFamily: FONT }, r: { fill: '#f23645', fontSize: 5, fontFamily: FONT } } } },
    { type: 'text', x: 6, y: 21.5, z: 60, style: { fontSize: 5, fontFamily: FONT, verticalAlign: 'middle',
      text: '{d|HA-MS}  {a|106,846.86} {b|80,339.08} {c|82,986.22} {e|120,760.81} {f|67,720.67} {g|96,951.78} {e|64,858.15} {h|16,831.85} {g|0.00} {e|0.00}',
      rich: { d: { fill: '#131722', fontSize: 5 }, a: { fill: '#d8c83a', fontSize: 5 }, b: { fill: '#b3ab4a', fontSize: 5 }, c: { fill: '#8f9a3a', fontSize: 5 },
        e: { fill: '#2f3fe0', fontSize: 5 }, f: { fill: '#ff9800', fontSize: 5 }, g: { fill: '#e23ee8', fontSize: 5 }, h: { fill: '#8a8f99', fontSize: 5 } } } },
    { type: 'text', x: 6, y: 303, z: 60, style: { fontSize: 5, fontFamily: FONT, verticalAlign: 'middle',
      text: `{d|StochRSI}  {r|${kLast.toFixed(2)}} {b|${dLast.toFixed(2)}}`,
      rich: { d: { fill: '#131722', fontSize: 5 }, r: { fill: '#e85a66', fontSize: 5 }, b: { fill: '#4a6ee8', fontSize: 5 } } } },
    { type: 'text', x: 6, y: 327.5, z: 60, style: { fontSize: 5, fontFamily: FONT, verticalAlign: 'middle',
      text: `{d|BBW (close)}  {t|${bLast.toFixed(2)}}`,
      rich: { d: { fill: '#131722', fontSize: 5 }, t: { fill: '#2a9d8f', fontSize: 5 } } } },
    { type: 'text', x: 6, y: 361, z: 60, style: { fontSize: 5, fontFamily: FONT, verticalAlign: 'middle',
      text: '{d|OBV}  {c|7.751M} {o|7.664M} {b|7.464M} {p|7.821M}',
      rich: { d: { fill: '#131722', fontSize: 5 }, c: { fill: '#26b5cf', fontSize: 5 }, o: { fill: '#ff9800', fontSize: 5 }, b: { fill: '#3f5be0', fontSize: 5 }, p: { fill: '#b5386f', fontSize: 5 } } } },
    { type: 'circle', shape: { cx: 747, cy: 292, r: 3.2 }, style: { fill: 'rgba(255,255,255,0.7)', stroke: '#d63be0', lineWidth: 0.8 }, z: 60 },
    { type: 'text', x: 6, y: 421, z: 101, style: { text: 'TV', fill: '#e8e8e8', fontSize: 8, fontWeight: 900, fontFamily: FONT, verticalAlign: 'middle' } },
    { type: 'text', x: 19, y: 421, z: 101, style: { text: 'TradingView', fill: '#e8e8e8', fontSize: 8, fontFamily: FONT, verticalAlign: 'middle' } },
  ];

  return {
    animation: false,
    backgroundColor: '#dde8f4',
    textStyle: { fontFamily: FONT },
    grid: grids,
    xAxis: xAxes,
    yAxis: yAxes,
    series,
    graphic,
  };
}

export default function App() {
  const ref = useRef<HTMLDivElement>(null);
  useEffect(() => {
    if (!ref.current) return;
    const chart = echarts.init(ref.current, null, { renderer: 'svg' });
    chart.setOption(buildOption() as any);
    return () => chart.dispose();
  }, []);
  return <div ref={ref} style={{ position: 'fixed', left: 0, top: 0, width: 860, height: 431 }} />;
}
